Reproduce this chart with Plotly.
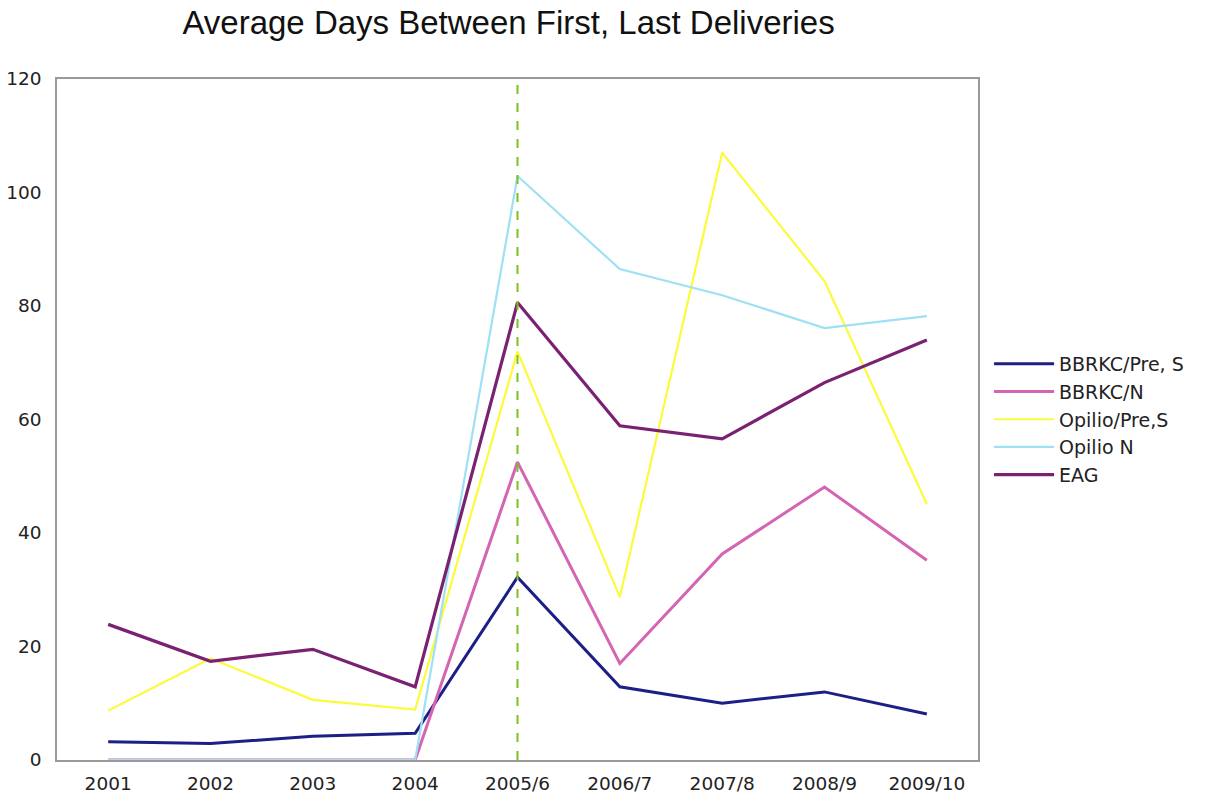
import plotly.graph_objects as go

categories = ["2001", "2002", "2003", "2004", "2005/6", "2006/7", "2007/8", "2008/9", "2009/10"]
bbrkc_pre_s = [3.2, 2.9, 4.2, 4.7, 32.2, 12.9, 10.0, 12.0, 8.1]
bbrkc_n = [0, 0, 0, 0, 52.5, 17.0, 36.3, 48.1, 35.2]
opilio_pre_s = [8.7, 17.9, 10.6, 8.9, 72.0, 28.7, 107.0, 84.4, 45.1]
opilio_n = [0, 0, 0, 0, 102.9, 86.5, 81.9, 76.1, 78.2]
eag = [23.9, 17.4, 19.5, 12.9, 80.6, 58.9, 56.6, 66.5, 74.0]
split_category = "2005/6"
y_ticks = [0, 20, 40, 60, 80, 100, 120]

series = [
    ("BBRKC/Pre, S", bbrkc_pre_s, "#1c1f86", 3),
    ("BBRKC/N", bbrkc_n, "#d464b4", 3),
    ("Opilio/Pre,S", opilio_pre_s, "#fbfb3c", 2.2),
    ("Opilio N", opilio_n, "#9ee0f4", 2.2),
    ("EAG", eag, "#7a2171", 3.2),
]

fig = go.Figure()
for name, vals, color, width in series:
    fig.add_trace(go.Scatter(x=categories, y=vals, mode="lines", name=name,
                             line=dict(color=color, width=width)))

fig.add_trace(go.Scatter(x=[split_category, split_category], y=[y_ticks[0], y_ticks[-1]],
                         mode="lines", showlegend=False, hoverinfo="skip",
                         line=dict(color="#7cc21a", width=2, dash="dash")))

fig.update_layout(
    width=1208, height=798,
    margin=dict(l=57, r=230, t=79, b=38, autoexpand=False),
    paper_bgcolor="white", plot_bgcolor="white",
    title=dict(text="Average Days Between First, Last Deliveries",
               font=dict(family="Liberation Sans, Arial", size=33, color="#111"),
               x=0.421, xanchor="center", y=0.972, yanchor="middle"),
    font=dict(family="DejaVu Sans, Verdana", size=18, color="#222"),
    legend=dict(x=1.012, y=0.5, xanchor="left", yanchor="middle",
                font=dict(family="DejaVu Sans, Verdana", size=19, color="#222"),
                tracegroupgap=0, itemwidth=60),
    showlegend=True,
)
fig.update_xaxes(type="category", showgrid=False, showline=True, linecolor="#999",
                 linewidth=1.5, mirror=True, ticks="", tickfont=dict(size=18.5),
                 ticklabelstandoff=6, automargin=False, range=[-0.5, len(categories) - 0.5])
fig.update_yaxes(range=[y_ticks[0], y_ticks[-1]], tickvals=y_ticks, showgrid=False,
                 showline=True, linecolor="#999", linewidth=1.5, mirror=True, automargin=False,
                 zeroline=False, ticks="", tickfont=dict(size=18.5), ticklabelstandoff=10)

fig.write_html("out.html")
